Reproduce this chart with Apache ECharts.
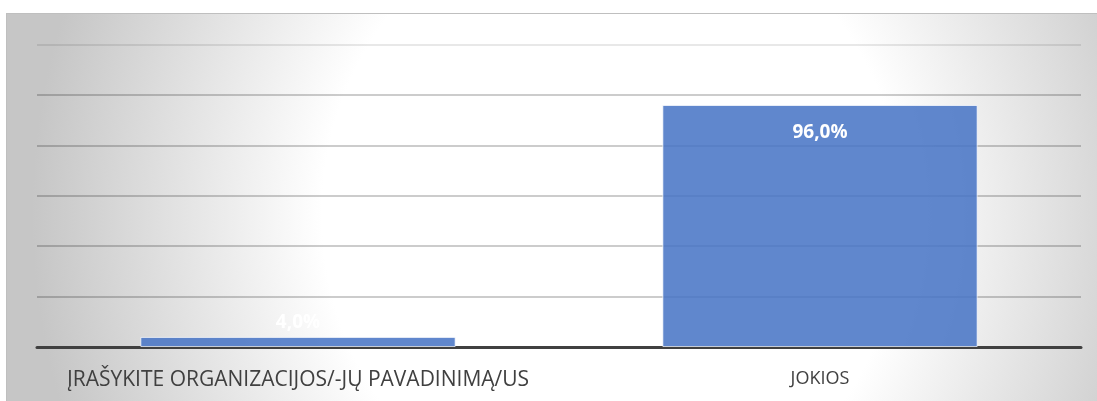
<!DOCTYPE html>
<html>
<head>
<meta charset="utf-8">
<script src="https://cdn.jsdelivr.net/npm/echarts@6/dist/echarts.min.js"></script>
<style>
  html, body { margin: 0; padding: 0; background: #ffffff; width: 1097px; height: 401px; overflow: hidden; }
  #frame {
    position: absolute; left: 6px; top: 13px; width: 1091px; height: 388px;
    box-sizing: border-box; border-top: 1px solid #bfbfbf; border-left: 1px solid #bfbfbf;
    background: radial-gradient(ellipse 580px 620px at 605px 200px, #ffffff 0%, #ffffff 50%, #c6c6c6 100%);
  }
  #chart { position: absolute; left: 0; top: 0; width: 1091px; height: 388px; }
</style>
</head>
<body>
<div id="frame"><div id="chart"></div></div>
<script>
const categories = ['ĮRAŠYKITE ORGANIZACIJOS/-JŲ PAVADINIMĄ/US', 'JOKIOS'];
const values = [4.0, 96.0];
const yMin = 0, yMax = 120, yInterval = 20;

function fmt(v) { return v.toFixed(1).replace('.', ',') + '%'; }

const labelFont = { color: '#ffffff', fontWeight: 'bold', fontSize: 19, fontFamily: 'Open Sans' };
const seriesData = values.map(function (v) {
  const big = v > 10;
  return {
    value: v,
    label: Object.assign({
      show: true,
      position: big ? 'insideTop' : 'top',
      distance: big ? 18 : 5,
      formatter: function (p) { return fmt(p.value); }
    }, labelFont)
  };
});

const categoryData = categories.map(function (c) {
  return { value: c, textStyle: { fontSize: c.length > 20 ? 21 : 18 } };
});

const chart = echarts.init(document.getElementById('chart'), null, { renderer: 'canvas' });
chart.setOption({
  backgroundColor: 'transparent',
  animation: false,
  grid: { left: 30, right: 17, top: 30.5, bottom: 55, containLabel: false },
  xAxis: {
    type: 'category',
    data: categoryData,
    axisLine: { show: true, lineStyle: { color: '#404040', width: 3 } },
    axisTick: { show: false },
    axisLabel: { color: '#404040', fontSize: 18, fontFamily: 'Open Sans', margin: 23, interval: 0 },
    splitLine: { show: false }
  },
  yAxis: {
    type: 'value',
    min: yMin, max: yMax, interval: yInterval,
    axisLine: { show: false },
    axisTick: { show: false },
    axisLabel: { show: false },
    splitLine: {
      show: true,
      lineStyle: {
        width: 1.5,
        color: ['rgba(0,0,0,0)', 'rgba(0,0,0,0.27)', 'rgba(0,0,0,0.27)', 'rgba(0,0,0,0.27)', 'rgba(0,0,0,0.27)', 'rgba(0,0,0,0.27)', 'rgba(0,0,0,0.12)']
      }
    }
  },
  series: [{
    type: 'bar',
    data: seriesData,
    barWidth: '60.4%',
    itemStyle: { color: 'rgba(68,114,196,0.85)', borderColor: 'rgba(255,255,255,0.7)', borderWidth: 1 }
  }]
});
</script>
</body>
</html>
